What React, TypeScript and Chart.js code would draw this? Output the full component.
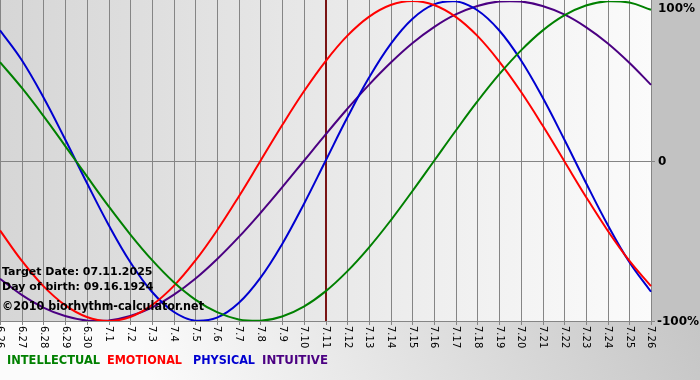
import React, { useEffect, useRef } from "react";
import { Chart, registerables } from "chart.js";

Chart.register(...registerables);

const dayLabels = [
  "6.26", "6.27", "6.28", "6.29", "6.30", "7.1", "7.2", "7.3", "7.4", "7.5", "7.6",
  "7.7", "7.8", "7.9", "7.10", "7.11", "7.12", "7.13", "7.14", "7.15", "7.16",
  "7.17", "7.18", "7.19", "7.20", "7.21", "7.22", "7.23", "7.24", "7.25", "7.26",
];

const intellectual = [61.8, 45.8, 28.2, 9.5, -9.5, -28.2, -45.8, -61.8, -75.6, -86.6, -94.5, -99.0, -99.9, -97.2, -91.0, -81.5, -69.0, -54.1, -37.2, -18.9, 0, 18.9, 37.2, 54.1, 69.0, 81.5, 91.0, 97.2, 99.9, 99.0, 94.5];
const emotional = [-43.4, -62.3, -78.2, -90.1, -97.5, -100, -97.5, -90.1, -78.2, -62.3, -43.4, -22.3, 0, 22.3, 43.4, 62.3, 78.2, 90.1, 97.5, 100, 97.5, 90.1, 78.2, 62.3, 43.4, 22.3, 0, -22.3, -43.4, -62.3, -78.2];
const physical = [81.7, 63.1, 39.8, 13.6, -13.6, -39.8, -63.1, -81.7, -94.2, -99.8, -97.9, -88.8, -73.1, -52.0, -27.0, 0, 27.0, 52.0, 73.1, 88.8, 97.9, 99.8, 94.2, 81.7, 63.1, 39.8, 13.6, -13.6, -39.8, -63.1, -81.7];
const intuitive = [-73.6, -83.7, -91.6, -96.9, -99.7, -99.7, -96.9, -91.6, -83.7, -73.6, -61.4, -47.6, -32.5, -16.5, 0, 16.5, 32.5, 47.6, 61.4, 73.6, 83.7, 91.6, 96.9, 99.7, 99.7, 96.9, 91.6, 83.7, 73.6, 61.4, 47.6];

const yTickLabels = ["100%", "0", "-100%"];
const yTickValues = [100, 0, -100];
const targetIndex = 15;
const infoLines = ["Target Date: 07.11.2025", "Day of birth: 09.16.1924"];
const copyright = "©2010 biorhythm-calculator.net";
const legendNames = ["INTELLECTUAL", "EMOTIONAL", "PHYSICAL", "INTUITIVE"];
const legendColors = ["#008000", "#ff0000", "#0000d0", "#4b0082"];

const FONT = '"DejaVu Sans", Verdana, sans-serif';

const decorPlugin = {
  id: "decor",
  beforeDraw(chart: any) {
    const { ctx, chartArea: a, width, height } = chart;
    ctx.save();
    const bg = ctx.createLinearGradient(150, 380, 700, 150);
    bg.addColorStop(0, "#fbfbfb");
    bg.addColorStop(1, "#bfbfbf");
    ctx.fillStyle = bg;
    ctx.fillRect(0, 0, width, height);
    ctx.fillStyle = "#c2c2c2";
    ctx.fillRect(a.right, 0, width - a.right, a.bottom);
    const pg = ctx.createLinearGradient(a.left, 0, a.right, 0);
    pg.addColorStop(0, "#d6d6d6");
    pg.addColorStop(1, "#fbfbfb");
    ctx.fillStyle = pg;
    ctx.fillRect(a.left, 0, a.right - a.left, a.bottom);
    const xs = chart.scales.x;
    const ys = chart.scales.y;
    ctx.strokeStyle = "#858585";
    ctx.lineWidth = 1;
    for (let i = 0; i < dayLabels.length; i++) {
      const x = Math.round(xs.getPixelForValue(i)) + 0.5;
      ctx.beginPath();
      ctx.moveTo(x, 0);
      ctx.lineTo(x, a.bottom + 4);
      ctx.stroke();
    }
    const y0 = Math.round(ys.getPixelForValue(0)) + 0.5;
    ctx.beginPath();
    ctx.moveTo(a.left, y0);
    ctx.lineTo(a.right + 4, y0);
    ctx.stroke();
    const yb = Math.round(a.bottom) + 0.5;
    ctx.beginPath();
    ctx.moveTo(a.left, yb);
    ctx.lineTo(a.right + 4, yb);
    ctx.stroke();
    const tx = Math.round(xs.getPixelForValue(targetIndex));
    ctx.fillStyle = "#7a1414";
    ctx.fillRect(tx - 1, 0, 2, a.bottom);
    ctx.restore();
  },
  afterDraw(chart: any) {
    const { ctx, chartArea: a } = chart;
    const xs = chart.scales.x;
    const ys = chart.scales.y;
    ctx.save();
    ctx.fillStyle = "#000";
    ctx.font = `10px ${FONT}`;
    ctx.textAlign = "left";
    ctx.textBaseline = "middle";
    for (let i = 0; i < dayLabels.length; i++) {
      const x = xs.getPixelForValue(i);
      ctx.save();
      ctx.translate(x, a.bottom + 5);
      ctx.rotate(Math.PI / 2);
      ctx.fillText(dayLabels[i], 0, 0);
      ctx.restore();
    }
    ctx.font = `bold 12px ${FONT}`;
    for (let i = 0; i < yTickLabels.length; i++) {
      let y = ys.getPixelForValue(yTickValues[i]);
      if (i === 0) y += 7;
      ctx.fillText(yTickLabels[i], i === 2 ? a.right + 6 : a.right + 7, y + 1);
    }
    ctx.font = `bold 11px ${FONT}`;
    ctx.fillText(infoLines[0], 2, 272, 152);
    ctx.fillText(infoLines[1], 2, 287, 152);
    ctx.font = `bold 12px ${FONT}`;
    ctx.fillText(copyright, 2, 307, 202);
    const lx = [7, 107, 193, 262];
    const lw = [93, 75, 62, 66];
    for (let i = 0; i < legendNames.length; i++) {
      ctx.fillStyle = legendColors[i];
      ctx.fillText(legendNames[i], lx[i], 361, lw[i]);
    }
    ctx.restore();
  },
};

export default function App() {
  const ref = useRef<HTMLCanvasElement | null>(null);
  useEffect(() => {
    if (!ref.current) return;
    const mk = (label: string, data: number[], color: string) => ({
      label,
      data,
      borderColor: color,
      backgroundColor: color,
      borderWidth: 2,
      pointRadius: 0,
      tension: 0.4,
      fill: false,
    });
    const chart = new Chart(ref.current, {
      type: "line",
      data: {
        labels: dayLabels,
        datasets: [
          mk(legendNames[0], intellectual, legendColors[0]),
          mk(legendNames[1], emotional, legendColors[1]),
          mk(legendNames[2], physical, legendColors[2]),
          mk(legendNames[3], intuitive, legendColors[3]),
        ],
      },
      options: {
        responsive: false,
        animation: false,
        layout: { padding: { left: 0, right: 49, top: 1, bottom: 59 } },
        plugins: { legend: { display: false }, tooltip: { enabled: false } },
        scales: {
          x: { type: "category", display: false, offset: false },
          y: { display: false, min: -100, max: 100 },
        },
      },
      plugins: [decorPlugin],
    });
    return () => chart.destroy();
  }, []);
  return (
    <div style={{ position: "absolute", left: 0, top: 0, width: 700, height: 380 }}>
      <canvas ref={ref} width={700} height={380} style={{ width: 700, height: 380 }} />
    </div>
  );
}
